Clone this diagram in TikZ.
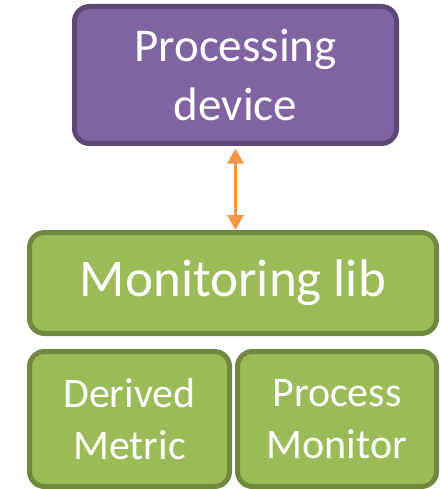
\documentclass[tikz,border=0pt]{standalone}
\usepackage{fontspec}
\setmainfont{Carlito}
\usetikzlibrary{arrows.meta,calc}
\definecolor{pfill}{HTML}{8064A2}
\definecolor{pline}{HTML}{5C4776}
\definecolor{gfill}{HTML}{9BBB59}
\definecolor{gline}{HTML}{71893F}
\definecolor{orng}{HTML}{F79646}
\tikzset{
  box/.style={draw, line width=5pt, rounded corners=15pt, text=white, align=center, inner sep=0pt},
  purplebox/.style={box, fill=pfill, draw=pline},
  greenbox/.style={box, fill=gfill, draw=gline},
  link/.style={draw=orng, line width=3pt, {Triangle[length=15pt,width=16pt]}-{Triangle[length=15pt,width=16pt]}}
}
\begin{document}
\begin{tikzpicture}[x=1pt,y=-1pt]
\useasboundingbox (0,0) rectangle (439,489);
\node[purplebox, minimum width=322pt, minimum height=137pt,
      font=\fontsize{47pt}{59pt}\selectfont] (dev) at (235.5,75) {Processing\\device};
\node[greenbox, minimum width=407pt, minimum height=101pt,
      font=\fontsize{53pt}{60pt}\selectfont] (mon) at (233,283) {Monitoring lib};
\node[greenbox, minimum width=200pt, minimum height=135pt,
      font=\fontsize{42pt}{52pt}\selectfont] (der) at (129.5,419) {Derived\\Metric};
\node[greenbox, minimum width=199pt, minimum height=135pt,
      font=\fontsize{42pt}{52pt}\selectfont] (pm) at (337,419) {Process\\Monitor};
\coordinate (top) at ($(dev.south)+(0,2.5)$);
\draw[link] (top) -- (top |- mon.north);
\end{tikzpicture}
\end{document}
